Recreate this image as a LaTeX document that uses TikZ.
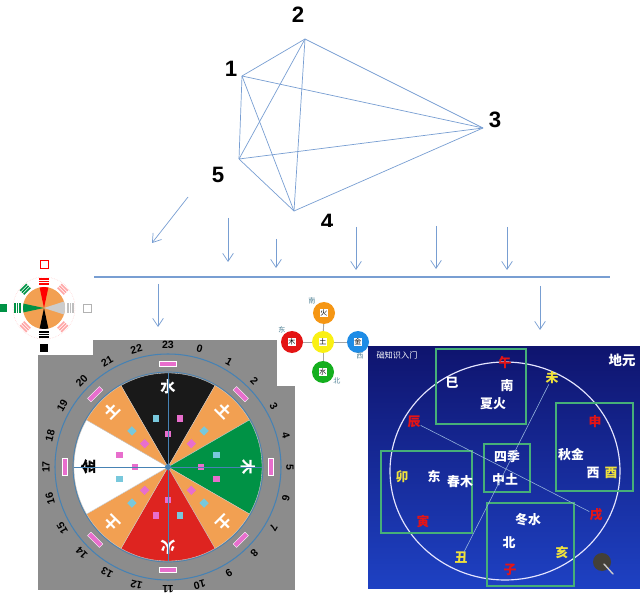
\documentclass[tikz,border=0pt]{standalone}
\usepackage{fontspec}
\setmainfont{Liberation Sans}
\newfontfamily\cjk{Noto Sans CJK SC}
\usetikzlibrary{arrows.meta}

\definecolor{linkblue}{RGB}{120,158,210}
\definecolor{wheelgray}{RGB}{140,140,140}
\definecolor{ringblue}{RGB}{70,130,180}
\definecolor{sorange}{RGB}{242,160,82}
\definecolor{sgreen}{RGB}{0,146,69}
\definecolor{sred}{RGB}{222,36,32}
\definecolor{sblack}{RGB}{25,25,25}
\definecolor{spink}{RGB}{232,110,205}
\definecolor{scyan}{RGB}{120,200,220}
\definecolor{forange}{RGB}{245,150,20}
\definecolor{fred}{RGB}{228,20,20}
\definecolor{fyellow}{RGB}{250,240,20}
\definecolor{fblue}{RGB}{30,140,230}
\definecolor{fgreen}{RGB}{20,175,30}
\definecolor{dirteal}{RGB}{80,130,150}
\definecolor{boxgreen}{RGB}{70,175,120}
\definecolor{navytop}{RGB}{15,20,110}
\definecolor{navybot}{RGB}{30,65,195}
\definecolor{txtred}{RGB}{230,20,20}
\definecolor{txtyel}{RGB}{240,225,60}

\begin{document}
\begin{tikzpicture}[x=0.03cm, y=-0.03cm,
    link/.style={draw=linkblue, line width=0.6pt},
    arr/.style={link, -{Straight Barb[length=2.4mm, width=3.2mm]}},
    num/.style={font=\fontsize{19}{19}\selectfont\bfseries, inner sep=0pt},
    hour/.style={font=\fontsize{9}{9}\selectfont\bfseries, inner sep=0pt},
    elem/.style={font=\cjk\fontsize{13}{13}\selectfont\bfseries, inner sep=0pt},
    pinkbox/.style={fill=spink, minimum size=2mm, inner sep=0pt},
    cyanbox/.style={fill=scyan, minimum size=2mm, inner sep=0pt},
    pinklbl/.style={fill=spink, draw=white, line width=0.3pt, minimum width=5mm,
        minimum height=1.5mm, inner sep=0pt},
    bar/.style={minimum width=2.8mm, minimum height=0.45mm, inner sep=0pt},
    elemdot/.style={circle, minimum size=6.6mm, inner sep=0pt,
        font=\cjk\fontsize{6}{6}\selectfont,
        path picture={\fill[white] ([xshift=-1.3mm, yshift=-1.3mm]path picture bounding box.center)
            rectangle ([xshift=1.3mm, yshift=1.3mm]path picture bounding box.center);}},
    dir/.style={font=\cjk\fontsize{6}{6}\selectfont, text=dirteal, inner sep=0pt},
    rt/.style={font=\cjk\fontsize{11}{11}\selectfont\bfseries, text=white, inner sep=0pt},
    gbox/.style={draw=boxgreen, line width=1pt}]
\useasboundingbox (0,0) rectangle (640,595);

% complete graph on five points
\coordinate (v1) at (242,76);
\coordinate (v2) at (305,39);
\coordinate (v3) at (483,128);
\coordinate (v4) at (294,211);
\coordinate (v5) at (239,159);
\foreach \a/\b in {1/2,1/3,1/4,1/5,2/3,2/4,2/5,3/4,3/5,4/5}
  \draw[link] (v\a) -- (v\b);
\node[num] (n1) at (231,69) {1};
\node[num] (n2) at (298,15) {2};
\node[num] (n3) at (495,120) {3};
\node[num] (n5) at (218,175) {5};
\begin{scope}
  \clip (310,205) rectangle (345,227);
  \node[num] (n4) at (327,222) {4};
\end{scope}

% arrows and the bar
\coordinate (barl) at (94,277);
\coordinate (barr) at (610,277);
\draw[link, line width=0.9pt] (barl) -- (barr);
\foreach \i/\xa/\ya/\xb/\yb in {1/188/197/152/243, 2/228/218/228/262, 3/276/239/276/268,
    4/356/227/356/270, 5/436/226/436/269, 6/507/227/507/270, 7/158/284/158/327, 8/540/286/540/330} {
  \coordinate (s\i) at (\xa,\ya);
  \coordinate (e\i) at (\xb,\yb);
  \draw[arr] (s\i) -- (e\i);
}

% hour wheel
\fill[wheelgray] (38,340) rectangle (295,590);
\begin{scope}[shift={(168,467)}, y=0.03cm]
  \foreach \a/\b/\c/\ch/\tc in {60/120/sblack/水/white, 30/60/sorange/土/white,
      -30/30/sgreen/木/white, -60/-30/sorange/土/white, -120/-60/sred/火/white,
      -150/-120/sorange/土/white, 150/210/white/金/black, 120/150/sorange/土/white} {
    \fill[\c, draw=white!60!gray, line width=0.3pt] (0,0) -- (\a:94)
      arc[start angle=\a, end angle=\b, radius=94] -- cycle;
    \pgfmathsetmacro\m{(\a+\b)/2}
    \node[elem, text=\tc, rotate=\m-90] at (\m:80) {\ch};
    \node[pinkbox, rotate=\m-90] at (\m:33) {};
    \node[pinklbl, rotate=\m-90] at (\m:103) {};
  }
  \foreach \m in {90,0,-90,180} {
    \node[cyanbox, rotate=\m-90] at (\m+14:50) {};
    \node[pinkbox, rotate=\m-90] at (\m-14:50) {};
  }
  \foreach \m in {45,-45,-135,135}
    \node[cyanbox, rotate=\m-90] at (\m:51) {};
  \draw[ringblue, line width=0.5pt] (90:94) -- (270:94) (180:94) -- (0:94);
  \fill[ringblue] (0,0) circle[radius=3];
  \draw[ringblue, line width=0.6pt] (0,0) circle[radius=95];
  \draw[ringblue, line width=0.9pt] (0,0) circle[radius=113];
  \foreach \h in {0,...,23} {
    \pgfmathsetmacro\ang{90-15*mod(\h+1,24)}
    \node[hour, rotate=\ang-90] at (\ang:122) {\h};
  }
\end{scope}

% small bagua wheel
\fill[white] (0,255) rectangle (93,355);
\begin{scope}[shift={(44,308)}, y=0.03cm]
  \fill[sorange] (0,0) circle[radius=21];
  \fill[red] (0,0) -- (78:21) arc[start angle=78, end angle=102, radius=21] -- cycle;
  \fill[sgreen] (0,0) -- (168:21) arc[start angle=168, end angle=192, radius=21] -- cycle;
  \fill[black] (0,0) -- (258:21) arc[start angle=258, end angle=282, radius=21] -- cycle;
  \fill[black!20] (0,0) -- (-18:21) arc[start angle=-18, end angle=18, radius=21] -- cycle;
  \draw[red!25, densely dotted] (0,0) circle[radius=31];
  \foreach \a/\c in {90/red, 135/sgreen, 180/sgreen, 270/black, 0/black!25,
      45/red!35, 225/red!35, 315/red!35}
    \foreach \k in {0,1,2}
      \node[bar, fill=\c, rotate=\a-90] at (\a:24+\k*2.5) {};
  \node[draw=red, fill=white, line width=0.8pt, minimum size=2.4mm, inner sep=0pt] at (90:44) {};
  \node[fill=sgreen, minimum size=2.4mm, inner sep=0pt] at (180:41) {};
  \node[fill=black, minimum size=2.4mm, inner sep=0pt] at (270:40) {};
  \node[draw=black!30, fill=white, minimum size=2.4mm, inner sep=0pt] at (0:43) {};
\end{scope}

% five elements cross
\fill[white] (277,293) rectangle (377,386);
\node[elemdot, fill=fyellow] (tu) at (323,342) {土};
\node[elemdot, fill=forange] (huo) at (324,313) {火};
\node[elemdot, fill=fred] (mu) at (292,342) {木};
\node[elemdot, fill=fblue] (jin) at (358,342) {金};
\node[elemdot, fill=fgreen] (shui) at (323,372) {水};
\foreach \n in {huo,mu,jin,shui}
  \draw[gray!70, line width=0.8pt] (tu) -- (\n);
\node[dir] at (312,301) {南};
\node[dir] at (282,330) {东};
\node[dir] at (360,356) {西};
\node[dir] at (337,381) {北};

% earth branches chart
\shade[top color=navytop, bottom color=navybot] (368,346) rectangle (640,588);
\node[font=\cjk\fontsize{7}{7}\selectfont, text=white, inner sep=0pt] at (397,355) {础知识入门};
\node[rt, font=\cjk\fontsize{11.5}{11.5}\selectfont\bfseries] at (622,360) {地元};
\draw[white!90!blue, line width=1pt] (505,471) ellipse[x radius=3.45cm, y radius=3.27cm];
\draw[gbox] (436,349) rectangle (526,424);
\draw[gbox] (556,403) rectangle (633,491);
\draw[gbox] (484,444) rectangle (530,492);
\draw[gbox] (381,451) rectangle (472,533);
\draw[gbox] (487,503) rectangle (574,586);
\node[rt, text=txtred] (wu) at (505,363) {午};
\node[rt] (si) at (452,383) {巳};
\node[rt] (nan) at (507,386) {南};
\node[rt] (xia) at (493,404) {夏火};
\node[rt, text=txtyel] (wei) at (552,378) {未};
\node[rt, text=txtred] (chen) at (414,422) {辰};
\node[rt, text=txtred] (shen) at (595,422) {申};
\node[rt] (qiu) at (571,455) {秋金};
\node[rt] (xi) at (593,473) {西};
\node[rt, text=txtyel] (you) at (611,473) {酉};
\node[rt] (siji) at (507,457) {四季};
\node[rt] (zhong) at (505,480) {中土};
\node[rt, text=txtyel] (mao) at (402,477) {卯};
\node[rt] (dong) at (434,476) {东};
\node[rt] (chun) at (460,482) {春木};
\node[rt, text=txtred] (yin) at (423,522) {寅};
\node[rt, text=txtred] (xu) at (596,515) {戌};
\node[rt] (dongs) at (528,520) {冬水};
\node[rt] (bei) at (509,543) {北};
\node[rt, text=txtyel] (hai) at (562,553) {亥};
\node[rt, text=txtyel] (chou) at (461,558) {丑};
\node[rt, text=txtred] (zi) at (510,570) {子};
\draw[linkblue!80!white, line width=0.5pt] (chen) -- (xu);
\draw[linkblue!80!white, line width=0.5pt] (wei) -- (chou);
\fill[black!85!yellow] (602,562) circle[radius=0.27cm];
\draw[black!20, line width=1.2pt, line cap=round] (604,564) -- (613,574);
\end{tikzpicture}
\end{document}
